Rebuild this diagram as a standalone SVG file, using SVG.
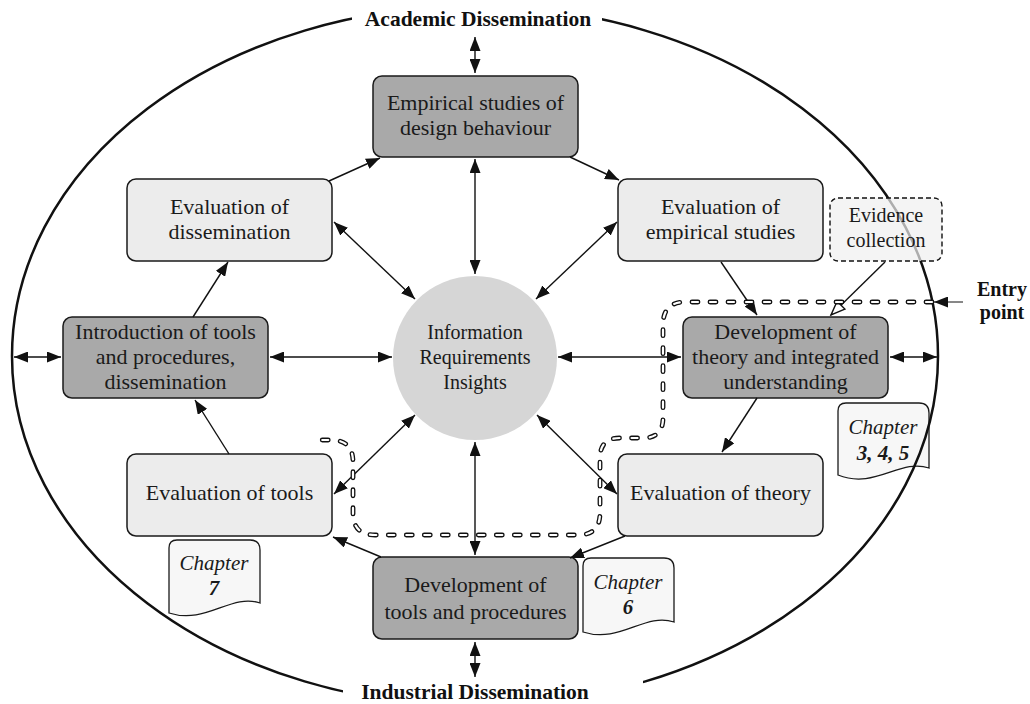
<svg xmlns="http://www.w3.org/2000/svg" width="1030" height="704" viewBox="0 0 1030 704">
  <style>
    .box { stroke: #1a1a1a; stroke-width: 1.5; }
    .dark { fill: #a9a9a9; }
    .light { fill: #ececec; }
    .lbl { font-family: "Liberation Serif", "Times New Roman", serif; font-size: 22px; fill: #1a1a1a; text-anchor: middle; }
    .hub { font-size: 20px; }
    .bold { font-family: "Liberation Serif", "Times New Roman", serif; font-weight: bold; font-size: 21.5px; fill: #111; text-anchor: middle; }
    .doc { fill: #f7f7f7; stroke: #1a1a1a; stroke-width: 1.3; }
    .chap { font-family: "Liberation Serif", "Times New Roman", serif; font-style: italic; font-size: 21px; fill: #1a1a1a; text-anchor: middle; }
    .num { font-weight: bold; }
    .link { fill: none; stroke: #111; stroke-width: 1.4; }
    .trail-out { fill: none; stroke: #111; stroke-width: 4.8; stroke-linecap: round; stroke-dasharray: 6 12; }
    .trail-in { fill: none; stroke: #fff; stroke-width: 2.2; stroke-linecap: round; stroke-dasharray: 6 12; }
  </style>
  <defs>
    <marker id="arrow" markerUnits="userSpaceOnUse" markerWidth="14" markerHeight="11" refX="14" refY="5.5" orient="auto-start-reverse">
      <path d="M0,0 L14,5.5 L0,11 z" fill="#111"/>
    </marker>
    <marker id="hollow" markerUnits="userSpaceOnUse" markerWidth="17" markerHeight="13" refX="15" refY="6.5" orient="auto">
      <path d="M1,1 L15,6.5 L1,12 z" fill="#fff" stroke="#111" stroke-width="1.4"/>
    </marker>
  </defs>

  <rect width="1030" height="704" fill="#fff"/>

  <!-- chapter documents -->
  <g id="chapter-345">
    <path class="doc" d="M838,411 Q838,403 846,403 H919 Q929,403 929,413 V468 C900,458 875,490 838,475 Z"/>
    <text class="chap" x="883" y="434">Chapter</text>
    <text class="chap num" x="883" y="460">3, 4, 5</text>
  </g>
  <g id="chapter-7">
    <path class="doc" d="M169,548 Q169,540 177,540 H250 Q260,540 260,550 V603 C231,593 206,625 169,613 Z"/>
    <text class="chap" x="214" y="570">Chapter</text>
    <text class="chap num" x="214" y="595">7</text>
  </g>
  <g id="chapter-6">
    <path class="doc" d="M583,566 Q583,558 591,558 H664 Q674,558 674,568 V622 C645,612 620,644 583,632 Z"/>
    <text class="chap" x="628" y="589">Chapter</text>
    <text class="chap num" x="628" y="614">6</text>
  </g>

  <!-- dissemination boundary -->
  <g id="boundary">
    <ellipse cx="475" cy="356" rx="463" ry="350" fill="none" stroke="#111" stroke-width="2.5"/>
    <rect x="352" y="4" width="250" height="32" fill="#fff"/>
    <rect x="343" y="676" width="300" height="28" fill="#fff"/>
    <text class="bold" x="478" y="26">Academic Dissemination</text>
    <text class="bold" x="475" y="699">Industrial Dissemination</text>
  </g>

  <!-- nodes -->
  <g id="hub">
    <circle cx="475" cy="358" r="82" fill="#d6d6d6"/>
    <text class="lbl hub" x="475" y="339">Information</text>
    <text class="lbl hub" x="475" y="364">Requirements</text>
    <text class="lbl hub" x="475" y="389">Insights</text>
  </g>
  <g id="empirical-studies">
    <rect class="box dark" x="373" y="76" width="205" height="81" rx="9"/>
    <text class="lbl" x="475.5" y="110">Empirical studies of</text>
    <text class="lbl" x="475.5" y="135">design behaviour</text>
  </g>
  <g id="eval-dissemination">
    <rect class="box light" x="127" y="179" width="205" height="82" rx="9"/>
    <text class="lbl" x="229.5" y="214">Evaluation of</text>
    <text class="lbl" x="229.5" y="239">dissemination</text>
  </g>
  <g id="eval-empirical">
    <rect class="box light" x="618" y="179" width="205" height="82" rx="9"/>
    <text class="lbl" x="720.5" y="214">Evaluation of</text>
    <text class="lbl" x="720.5" y="239">empirical studies</text>
  </g>
  <g id="intro-tools">
    <rect class="box dark" x="63" y="317" width="205" height="81" rx="9"/>
    <text class="lbl" x="165.5" y="339">Introduction of tools</text>
    <text class="lbl" x="165.5" y="364">and procedures,</text>
    <text class="lbl" x="165.5" y="389">dissemination</text>
  </g>
  <g id="dev-theory">
    <rect class="box dark" x="683" y="317" width="205" height="81" rx="9"/>
    <text class="lbl" x="785.5" y="339">Development of</text>
    <text class="lbl" x="785.5" y="364">theory and integrated</text>
    <text class="lbl" x="785.5" y="389">understanding</text>
  </g>
  <g id="eval-tools">
    <rect class="box light" x="127" y="454" width="205" height="82" rx="9"/>
    <text class="lbl" x="229.5" y="500">Evaluation of tools</text>
  </g>
  <g id="eval-theory">
    <rect class="box light" x="618" y="454" width="205" height="82" rx="9"/>
    <text class="lbl" x="720.5" y="500">Evaluation of theory</text>
  </g>
  <g id="dev-tools">
    <rect class="box dark" x="373" y="557" width="205" height="82" rx="9"/>
    <text class="lbl" x="475.5" y="592">Development of</text>
    <text class="lbl" x="475.5" y="619">tools and procedures</text>
  </g>
  <g id="evidence">
    <rect x="830" y="198" width="112" height="63" rx="8" fill="#efefef" fill-opacity="0.7" stroke="#111" stroke-width="1.4" stroke-dasharray="5 3"/>
    <text class="lbl hub" x="886" y="222">Evidence</text>
    <text class="lbl hub" x="886" y="247">collection</text>
  </g>

  <!-- connectors -->
  <g id="connectors">
    <path class="link" d="M475,37 V73" marker-start="url(#arrow)" marker-end="url(#arrow)"/>
    <path class="link" d="M475,642 V677" marker-start="url(#arrow)" marker-end="url(#arrow)"/>
    <path class="link" d="M14,357 H61" marker-start="url(#arrow)" marker-end="url(#arrow)"/>
    <path class="link" d="M890,357 H937" marker-start="url(#arrow)" marker-end="url(#arrow)"/>

    <path class="link" d="M570,157 L619,180" marker-end="url(#arrow)"/>
    <path class="link" d="M329,181 L380,158" marker-end="url(#arrow)"/>
    <path class="link" d="M193,317 L228,262" marker-end="url(#arrow)"/>
    <path class="link" d="M229,454 L195,400" marker-end="url(#arrow)"/>
    <path class="link" d="M381,557 L333,537" marker-end="url(#arrow)"/>
    <path class="link" d="M625,536 L570,558" marker-end="url(#arrow)"/>
    <path class="link" d="M757,398 L722,452" marker-end="url(#arrow)"/>
    <path class="link" d="M721,262 L757,315" marker-end="url(#arrow)"/>
    <path class="link" d="M885,262 L831,315" marker-end="url(#hollow)"/>

    <path class="link" d="M475,274 V159" marker-start="url(#arrow)" marker-end="url(#arrow)"/>
    <path class="link" d="M475,442 V555" marker-start="url(#arrow)" marker-end="url(#arrow)"/>
    <path class="link" d="M270,357 H392" marker-start="url(#arrow)" marker-end="url(#arrow)"/>
    <path class="link" d="M558,357 H681" marker-start="url(#arrow)" marker-end="url(#arrow)"/>
    <path class="link" d="M334,222 L415,299" marker-start="url(#arrow)" marker-end="url(#arrow)"/>
    <path class="link" d="M617,222 L536,299" marker-start="url(#arrow)" marker-end="url(#arrow)"/>
    <path class="link" d="M415,415 L334,494" marker-start="url(#arrow)" marker-end="url(#arrow)"/>
    <path class="link" d="M537,415 L617,494" marker-start="url(#arrow)" marker-end="url(#arrow)"/>

    <path d="M963,302 H934" fill="none" stroke="#111" stroke-width="1" marker-end="url(#arrow)"/>
  </g>

  <!-- research trail from the entry point -->
  <g id="trail">
    <path class="trail-out" d="M932,302 H685 Q663,302 663,325 V418 Q663,438 643,438 H620 Q600,438 600,458 V513 Q600,535 578,535 H375 Q353,535 353,513 V462 Q353,440 331,440 H313"/>
    <path class="trail-in" d="M932,302 H685 Q663,302 663,325 V418 Q663,438 643,438 H620 Q600,438 600,458 V513 Q600,535 578,535 H375 Q353,535 353,513 V462 Q353,440 331,440 H313"/>
  </g>

  <g id="entry-label">
    <text class="bold" x="1002" y="296" style="font-size:20px">Entry</text>
    <text class="bold" x="1002" y="319" style="font-size:20px">point</text>
  </g>
</svg>
